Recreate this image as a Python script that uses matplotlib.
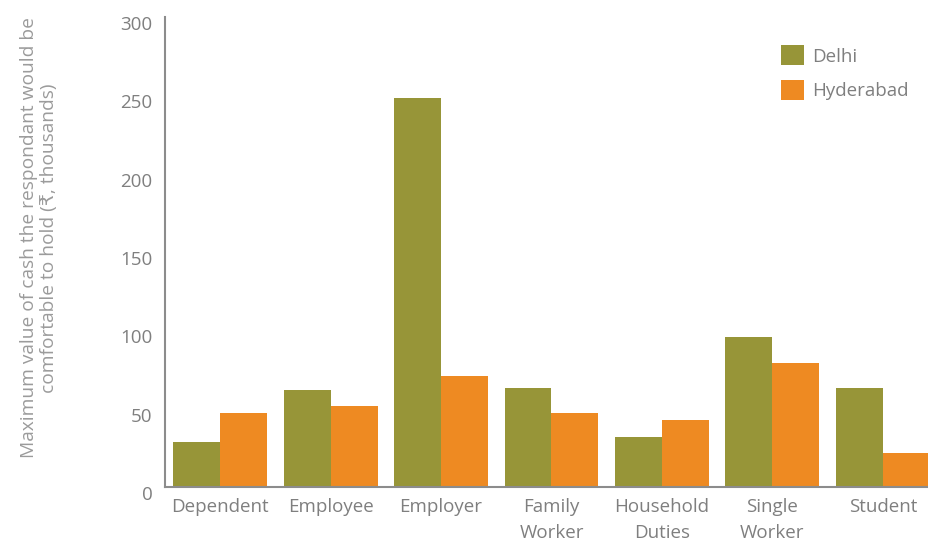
import numpy as np
import matplotlib
matplotlib.use("Agg")
import matplotlib.pyplot as plt
from matplotlib import transforms

# data (thousands of rupees)
categories = ["Dependent", "Employee", "Employer", "Family\nWorker",
              "Household\nDuties", "Single\nWorker", "Student"]
delhi = [29, 62, 248, 63, 32, 96, 63]
hyderabad = [47, 52, 71, 47, 43, 79, 22]
yticks = [0, 50, 100, 150, 200, 250, 300]

olive = "#979538"
orange = "#EE8A22"
grey_txt = "#7f7f7f"
grey_axis = "#8c8c8c"

plt.rcParams["font.family"] = ["Open Sans", "DejaVu Sans"]

fig = plt.figure(figsize=(9.29, 5.45), dpi=100)
# axes run a little past the right edge, like the original
ax = fig.add_axes([165 / 929, 1 - 487 / 545, 773 / 929, 470 / 545])

x = np.arange(len(categories))
w = 0.425
ax.bar(x - w / 2, delhi, w, color=olive, label="Delhi")
ax.bar(x + w / 2, hyderabad, w, color=orange, label="Hyderabad")

ax.set_xlim(-0.5, 6.5)
ax.set_ylim(0, 300)
ax.set_yticks(yticks)
ax.set_xticks(x)
ax.set_xticklabels(categories, fontsize=13.5, color=grey_txt, linespacing=1.55)
ax.tick_params(axis="both", length=0, labelcolor=grey_txt)
ax.tick_params(axis="y", pad=9, labelsize=13.5)
ax.tick_params(axis="x", pad=8)

# y labels sit a bit below their gridline in the reference
off = transforms.ScaledTranslation(0, -6 / 100, fig.dpi_scale_trans)
for lab in ax.get_yticklabels():
    lab.set_transform(lab.get_transform() + off)

for s in ["top", "right"]:
    ax.spines[s].set_visible(False)
for s in ["left", "bottom"]:
    ax.spines[s].set_color(grey_axis)
    ax.spines[s].set_linewidth(1.5)

ax.set_ylabel("Maximum value of cash the respondant would be\ncomfortable to hold (\u20b9, thousands)",
              fontsize=13.8, color="#9b9b9b", linespacing=1.2)
ax.yaxis.set_label_coords(-0.138, 0.53)

leg = fig.legend(loc="upper left", bbox_to_anchor=(781 / 929, 1 - 45 / 545),
                 frameon=False, fontsize=13.5, handlelength=1.25, handleheight=1.3,
                 handletextpad=0.4, labelspacing=0.75, borderpad=0, borderaxespad=0)
for t in leg.get_texts():
    t.set_color(grey_txt)

fig.savefig("out.png", dpi=100)
